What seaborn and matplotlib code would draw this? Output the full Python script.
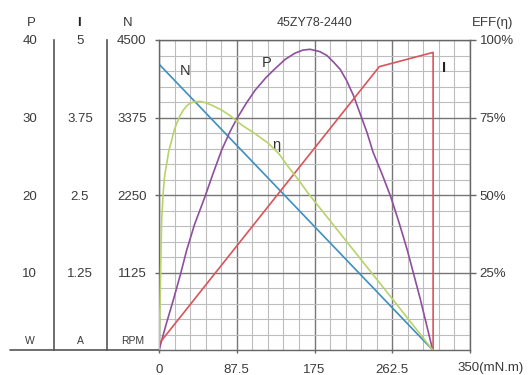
import numpy as np
import pandas as pd
import matplotlib
matplotlib.use("Agg")
import matplotlib.pyplot as plt
import seaborn as sns
from matplotlib.lines import Line2D

# values (torque in mN.m)
speed_torque = [0, 308]
speed_rpm = [4150, 0]

power_torque = [0, 8, 16.1, 24, 31.2, 40, 51.8, 60, 70.5, 80, 87.4, 98, 108, 120, 130.6, 142,
                153, 162, 170, 181, 189, 196, 204, 211, 219, 226, 234, 241, 251, 260.7, 270,
                279.4, 294, 308]
power_w = [0, 3.3, 6.45, 9.7, 12.9, 16.2, 19.8, 22.5, 25.8, 28.2, 29.8, 31.8, 33.5, 35.1, 36.3, 37.5,
           38.3, 38.7, 38.8, 38.5, 38.0, 37.2, 36.2, 34.8, 32.8, 30.6, 28.1, 25.5, 22.7, 19.8, 16.5,
           12.9, 6.6, 0]

current_torque = [0, 247.9, 308.5, 308.5]
current_a = [0.1, 4.57, 4.8, 0]

eff_torque = [0, 0.5, 1.2, 2, 3, 4.9, 6.5, 8.7, 11, 14.3, 17, 19.9, 23.5, 27.4, 31, 34.9, 40, 46,
              51.8, 60, 70.5, 80, 93, 108, 123, 135, 145.5, 157, 168, 263.7, 308]
eff_pct = [0, 6, 15, 28, 42, 51.6, 56.5, 60.2, 64.2, 67.7, 70.8, 73.1, 75.5, 77.4, 78.7, 79.6, 80.1, 80.2,
           79.8, 78.9, 77.4, 75.6, 72.6, 69.8, 66.7, 63.3, 59.1, 54.9, 50.5, 16.1, 0]

x_ticks = [0, 87.5, 175, 262.5, 350]
x_labels = ["0", "87.5", "175", "262.5", ""]
n_ticks = [1125, 2250, 3375, 4500]
p_ticks = [10, 20, 30, 40]
i_ticks = [1.25, 2.5, 3.75, 5]
i_labels = ["1.25", "2.5", "3.75", "5"]
e_ticks = [25, 50, 75, 100]

sns.set_theme(style="white")
plt.rcParams["font.family"] = ["Liberation Sans", "DejaVu Sans"]
txt = "#3a3a3a"
fs = 9.5

fig = plt.figure(figsize=(5.31, 3.75), dpi=100)
ax = fig.add_axes([159 / 531, 25 / 375, 311 / 531, 310 / 375])

# grid (20 x 20 cells, darker every 5)
ax.set_xlim(0, 350)
ax.set_ylim(0, 4500)
ax.set_xticks(x_ticks)
ax.set_xticklabels(x_labels)
ax.set_xticks(np.arange(0, 351, 17.5), minor=True)
ax.set_yticks(n_ticks)
ax.set_yticklabels([str(v) for v in n_ticks], ha="center")
ax.set_yticks(np.arange(0, 4501, 225), minor=True)
ax.grid(which="minor", color="#bdbdbd", lw=0.8)
ax.grid(which="major", color="#767676", lw=1.0)
ax.tick_params(which="minor", length=0)
ax.tick_params(axis="y", which="major", direction="out", length=3, width=1, color="#666",
               pad=16.5, labelsize=fs, labelcolor=txt, left=True)
ax.tick_params(axis="x", which="major", direction="out", length=2.5, width=1, color="#666",
               pad=7.5, labelsize=fs, labelcolor=txt, bottom=True)
for s in ax.spines.values():
    s.set_color("#666")
    s.set_linewidth(1.0)
ax.set_axisbelow(True)

# speed line on the main axis
sns.lineplot(x=speed_torque, y=speed_rpm, ax=ax, color="#3d8fc0", lw=1.2,
             estimator=None, sort=False)

# power axis (left column)
ax_p = ax.twinx()
ax_p.set_ylim(0, 40)
ax_p.yaxis.set_ticks_position("left")
ax_p.spines["left"].set_position(("axes", (54 - 159) / 311))
for k in ["top", "bottom", "right"]:
    ax_p.spines[k].set_visible(False)
ax_p.spines["left"].set_color("#555")
ax_p.spines["left"].set_linewidth(1.2)
ax_p.set_yticks(p_ticks)
ax_p.set_yticklabels([str(v) for v in p_ticks], ha="center")
ax_p.tick_params(axis="y", length=0, pad=17.5, labelsize=fs, labelcolor=txt)
sns.lineplot(x=power_torque, y=power_w, ax=ax_p, color="#8e4f9d", lw=1.2,
             estimator=None, sort=False)

# current axis (middle column)
ax_i = ax.twinx()
ax_i.set_ylim(0, 5)
ax_i.yaxis.set_ticks_position("left")
ax_i.spines["left"].set_position(("axes", (107 - 159) / 311))
for k in ["top", "bottom", "right"]:
    ax_i.spines[k].set_visible(False)
ax_i.spines["left"].set_color("#555")
ax_i.spines["left"].set_linewidth(1.2)
ax_i.set_yticks(i_ticks)
ax_i.set_yticklabels(i_labels, ha="center")
ax_i.tick_params(axis="y", length=0, pad=19.5, labelsize=fs, labelcolor=txt)
sns.lineplot(x=current_torque, y=current_a, ax=ax_i, color="#d9545a", lw=1.2,
             estimator=None, sort=False)

# efficiency axis (right)
ax_e = ax.twinx()
ax_e.set_ylim(0, 100)
for s in ax_e.spines.values():
    s.set_visible(False)
ax_e.set_yticks(e_ticks)
ax_e.set_yticklabels([f"{v}%" for v in e_ticks])
ax_e.tick_params(axis="y", direction="out", length=4, width=1, color="#666", pad=3,
                 labelsize=fs, labelcolor=txt, right=True)
sns.lineplot(x=eff_torque, y=eff_pct, ax=ax_e, color="#b9d26a", lw=1.2,
             estimator=None, sort=False)

for a in [ax_p, ax_i, ax_e]:
    a.set_xlim(0, 350)
    a.set_xlabel("")
    a.set_ylabel("")
ax.set_xlabel("")
ax.set_ylabel("")

# headers, units and titles
ax.text(0.5, 1.055, "45ZY78-2440", transform=ax.transAxes, ha="center", va="center",
        fontsize=9, color=txt)
hy = 1.055
ax.text((31 - 159) / 311, hy, "P", transform=ax.transAxes, ha="center", va="center", fontsize=fs, color=txt)
ax.text((79 - 159) / 311, hy, "I", transform=ax.transAxes, ha="center", va="center", fontsize=fs,
        color="#222", fontweight="bold")
ax.text((128 - 159) / 311, hy, "N", transform=ax.transAxes, ha="center", va="center", fontsize=fs, color=txt)
ax.text((493 - 159) / 311, hy, "EFF(η)", transform=ax.transAxes, ha="center", va="center", fontsize=fs, color=txt)
uy = (350 - 341) / 310
ax.text((30 - 159) / 311, uy, "W", transform=ax.transAxes, ha="center", va="center", fontsize=7.5, color=txt)
ax.text((80 - 159) / 311, uy, "A", transform=ax.transAxes, ha="center", va="center", fontsize=7.5, color=txt)
ax.text((133 - 159) / 311, uy, "RPM", transform=ax.transAxes, ha="center", va="center", fontsize=7.5, color=txt)
ax.text((457 - 159) / 311, -(368 - 350) / 310, "350(mN.m)", transform=ax.transAxes, ha="left",
        va="center", fontsize=fs, color=txt)
ax.add_line(Line2D([(10 - 159) / 311, 0], [0, 0], transform=ax.transAxes, color="#555",
                   lw=1.2, clip_on=False))

# curve labels
ax.text(29.6, 4050, "N", ha="center", va="center", fontsize=10.5, color="#333")
ax.text(121.2, 4162, "P", ha="center", va="center", fontsize=10.5, color="#333")
ax.text(132.4, 2976, "η", ha="center", va="center", fontsize=10.5, color="#333")
ax.text(320.7, 4089, "I", ha="center", va="center", fontsize=10.5, color="#222", fontweight="bold")

fig.savefig("out.png", dpi=100)
